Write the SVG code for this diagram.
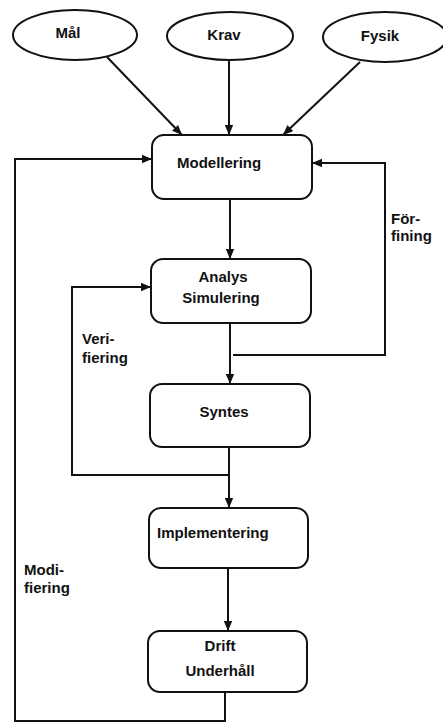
<svg xmlns="http://www.w3.org/2000/svg" width="443" height="723" viewBox="0 0 443 723">
  <style>
    .node { fill: #fff; stroke: #111; stroke-width: 2; }
    .lbl { font-family: "Liberation Sans", Arial, sans-serif; font-weight: bold; font-size: 15px; fill: #111; }
    .wire { fill: none; stroke: #111; stroke-width: 2; }
  </style>
  <defs>
    <marker id="arr" viewBox="0 0 10 10" refX="10" refY="5" markerWidth="10" markerHeight="10" markerUnits="userSpaceOnUse" orient="auto">
      <path d="M0,0.8 L10,5 L0,9.2 Z" fill="#111"/>
    </marker>
  </defs>
  <rect width="443" height="723" fill="#fff"/>

  <!-- connectors -->
  <g id="connectors">
    <line class="wire" x1="107" y1="57" x2="182" y2="135" marker-end="url(#arr)"/>
    <line class="wire" x1="229" y1="60" x2="229" y2="135" marker-end="url(#arr)"/>
    <line class="wire" x1="360" y1="62" x2="283" y2="135" marker-end="url(#arr)"/>
    <line class="wire" x1="230" y1="199" x2="230" y2="259" marker-end="url(#arr)"/>
    <line class="wire" x1="230" y1="323" x2="230" y2="384" marker-end="url(#arr)"/>
    <line class="wire" x1="229" y1="447" x2="229" y2="508" marker-end="url(#arr)"/>
    <line class="wire" x1="228" y1="568" x2="228" y2="631" marker-end="url(#arr)"/>
    <!-- Förfining loop -->
    <polyline class="wire" points="233,355 385,355 385,163 312,163" marker-end="url(#arr)"/>
    <!-- Verifiering loop -->
    <polyline class="wire" points="229,475 72,475 72,287 151,287" marker-end="url(#arr)"/>
    <!-- Modifiering loop -->
    <polyline class="wire" points="225,692 225,721 15,721 15,159 152,159" marker-end="url(#arr)"/>
  </g>

  <g id="mal">
    <ellipse class="node" cx="75" cy="35" rx="62" ry="25"/>
    <text class="lbl" x="68" y="38" text-anchor="middle">Mål</text>
  </g>
  <g id="krav">
    <ellipse class="node" cx="230" cy="36" rx="63" ry="24"/>
    <text class="lbl" x="224" y="40" text-anchor="middle">Krav</text>
  </g>
  <g id="fysik">
    <ellipse class="node" cx="385" cy="37" rx="62" ry="25"/>
    <text class="lbl" x="380" y="41" text-anchor="middle">Fysik</text>
  </g>

  <g id="modellering">
    <rect class="node" x="152" y="135" width="160" height="64" rx="12"/>
    <text class="lbl" x="177" y="168">Modellering</text>
  </g>
  <g id="analys">
    <rect class="node" x="151" y="259" width="160" height="64" rx="12"/>
    <text class="lbl" x="223" y="282" text-anchor="middle">Analys</text>
    <text class="lbl" x="221" y="303" text-anchor="middle">Simulering</text>
  </g>
  <g id="syntes">
    <rect class="node" x="150" y="384" width="160" height="63" rx="12"/>
    <text class="lbl" x="224" y="417" text-anchor="middle">Syntes</text>
  </g>
  <g id="implementering">
    <rect class="node" x="149" y="508" width="159" height="60" rx="12"/>
    <text class="lbl" x="157" y="538">Implementering</text>
  </g>
  <g id="drift">
    <rect class="node" x="148" y="631" width="159" height="61" rx="12"/>
    <text class="lbl" x="220" y="651" text-anchor="middle">Drift</text>
    <text class="lbl" x="220" y="676" text-anchor="middle">Underhåll</text>
  </g>

  <g id="loop-labels">
    <text class="lbl" x="391" y="224">För-</text>
    <text class="lbl" x="391" y="241">fining</text>
    <text class="lbl" x="82" y="344">Veri-</text>
    <text class="lbl" x="82" y="363">fiering</text>
    <text class="lbl" x="24" y="575">Modi-</text>
    <text class="lbl" x="24" y="593">fiering</text>
  </g>
</svg>
